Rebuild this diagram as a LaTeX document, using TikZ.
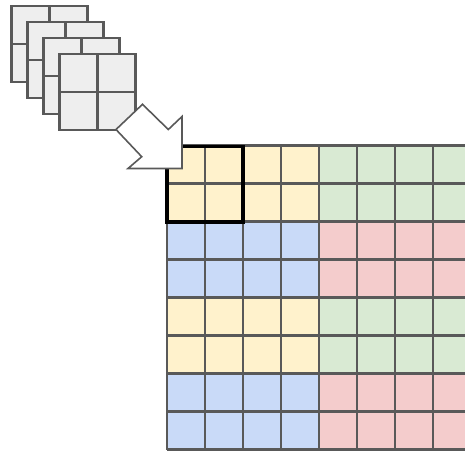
\documentclass[tikz,border=0pt]{standalone}
\usetikzlibrary{calc}
\definecolor{cyel}{HTML}{FFF2CC}
\definecolor{cgrn}{HTML}{D9EAD3}
\definecolor{cblu}{HTML}{C9DAF8}
\definecolor{cred}{HTML}{F4CCCC}
\definecolor{cgry}{HTML}{EEEEEE}
\definecolor{cline}{HTML}{595959}
\tikzset{
  gridline/.style={draw=cline, line width=2.3pt},
  focus/.style={draw=black, line width=3.7pt},
  arrowshape/.style={draw=cline, fill=white, line width=1.6pt, line join=miter},
}
\begin{document}
\begin{tikzpicture}[x=1pt,y=-1pt]
\useasboundingbox (0,0) rectangle (465,450);
\begin{scope}
\clip (0,0) rectangle (465,450);
% stacked small grids
\foreach \i in {0,1,2,3}{
  \pgfmathsetmacro{\ox}{11.5+16*\i}
  \pgfmathsetmacro{\oy}{6+16*\i}
  \fill[cgry] (\ox,\oy) rectangle ++(76,76);
  \draw[gridline] (\ox,\oy) rectangle ++(76,76);
  \draw[gridline] (\ox+38,\oy) -- ++(0,76);
  \draw[gridline] (\ox,\oy+38) -- ++(76,0);
}
% big grid fills
\def\gx{166.8}\def\gy{145.6}
\foreach \r/\cl/\cr in {0/cyel/cgrn,2/cblu/cred,4/cyel/cgrn,6/cblu/cred}{
  \fill[\cl] (\gx,\gy+38*\r) rectangle ++(152,76);
  \fill[\cr] (\gx+152,\gy+38*\r) rectangle ++(152,76);
}
\foreach \k in {0,...,8}{
  \draw[gridline] (\gx+38*\k,\gy) -- ++(0,304);
  \draw[gridline] (\gx,\gy+38*\k) -- ++(304,0);
}
\node[focus, minimum width=76.3pt, minimum height=75.6pt, inner sep=0pt] (sel) at (205.1,184.4) {};
% block arrow
\coordinate (a1) at (142.5,104.3);
\coordinate (a2) at (168.3,129.5);
\coordinate (a3) at (182,116.5);
\coordinate (a4) at (182,168.5);
\coordinate (a5) at (128,168.5);
\coordinate (a6) at (141.7,156.7);
\coordinate (a7) at (116,129.5);
\draw[arrowshape] (a1) -- (a2) -- (a3) -- (a4) -- (a5) -- (a6) -- (a7) -- cycle;
\end{scope}
\end{tikzpicture}
\end{document}
